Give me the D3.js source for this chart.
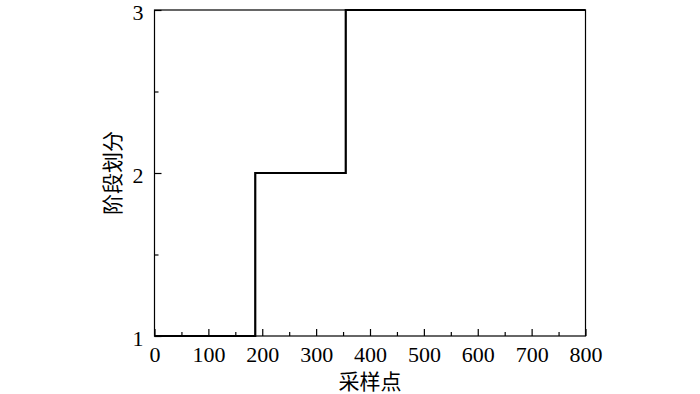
<!DOCTYPE html>
<html lang="zh">
<head>
  <meta charset="UTF-8">
  <title>阶段划分</title>
  <script src="https://d3js.org/d3.v7.min.js"></script>
  <style>
    body { margin: 0; background: #fff; }
    .tick text { font-family: "Liberation Serif", "DejaVu Serif", serif; font-size: 22px; fill: #000; }
    .cjk { font-family: "Noto Sans CJK SC", sans-serif; font-size: 21px; fill: #000; }
  </style>
</head>
<body>
  <div id="chart"></div>
  <script>
    // step change points (sample index) and the stage from that point on
    const samplePoints = [0, 187, 355, 800];
    const stageValues = [1, 2, 3, 3];

    const xTicks = [0, 100, 200, 300, 400, 500, 600, 700, 800];
    const xMinor = [50, 150, 250, 350, 450, 550, 650, 750];
    const yTicks = [1, 2, 3];
    const yMinor = [1.5, 2.5];

    const width = 700, height = 394;
    const margin = { top: 10, right: 114.5, bottom: 58, left: 154.5 };

    const svg = d3.select('#chart').append('svg')
      .attr('width', width)
      .attr('height', height);

    const x = d3.scaleLinear().domain([0, 800]).range([margin.left, width - margin.right]);
    const y = d3.scaleLinear().domain([1, 3]).range([height - margin.bottom, margin.top]);

    // minor ticks first (no labels)
    svg.append('g')
      .attr('transform', `translate(0,${height - margin.bottom})`)
      .call(d3.axisBottom(x).tickValues(xMinor).tickSize(-4).tickFormat(''))
      .call(g => g.select('.domain').remove());
    svg.append('g')
      .attr('transform', `translate(${margin.left},0)`)
      .call(d3.axisLeft(y).tickValues(yMinor).tickSize(-4).tickFormat(''))
      .call(g => g.select('.domain').remove());

    const xAxis = svg.append('g')
      .attr('transform', `translate(0,${height - margin.bottom})`)
      .call(d3.axisBottom(x).tickValues(xTicks).tickSize(-7).tickPadding(10).tickFormat(d3.format('d')));
    xAxis.select('.domain').remove();

    const yAxis = svg.append('g')
      .attr('transform', `translate(${margin.left},0)`)
      .call(d3.axisLeft(y).tickValues(yTicks).tickSize(-7).tickPadding(11).tickFormat(d3.format('d')));
    yAxis.select('.domain').remove();
    yAxis.selectAll('.tick text').attr('dy', '0.42em');

    svg.selectAll('.tick line').attr('stroke', '#000').attr('stroke-width', 1.2);

    // frame
    svg.append('rect')
      .attr('x', x(0)).attr('y', y(3))
      .attr('width', x(800) - x(0)).attr('height', y(1) - y(3))
      .attr('fill', 'none').attr('stroke', '#000').attr('stroke-width', 1.2);

    const line = d3.line()
      .x((d, i) => x(samplePoints[i]))
      .y(d => y(d))
      .curve(d3.curveStepAfter);

    svg.append('path')
      .datum(stageValues)
      .attr('d', line)
      .attr('fill', 'none')
      .attr('stroke', '#000')
      .attr('stroke-width', 2.2);

    svg.append('text')
      .attr('class', 'cjk')
      .attr('x', x(400))
      .attr('y', 389)
      .attr('text-anchor', 'middle')
      .text('采样点');

    svg.append('text')
      .attr('class', 'cjk')
      .attr('transform', `translate(120,${y(2)}) rotate(-90)`)
      .attr('text-anchor', 'middle')
      .text('阶段划分');
  </script>
</body>
</html>
